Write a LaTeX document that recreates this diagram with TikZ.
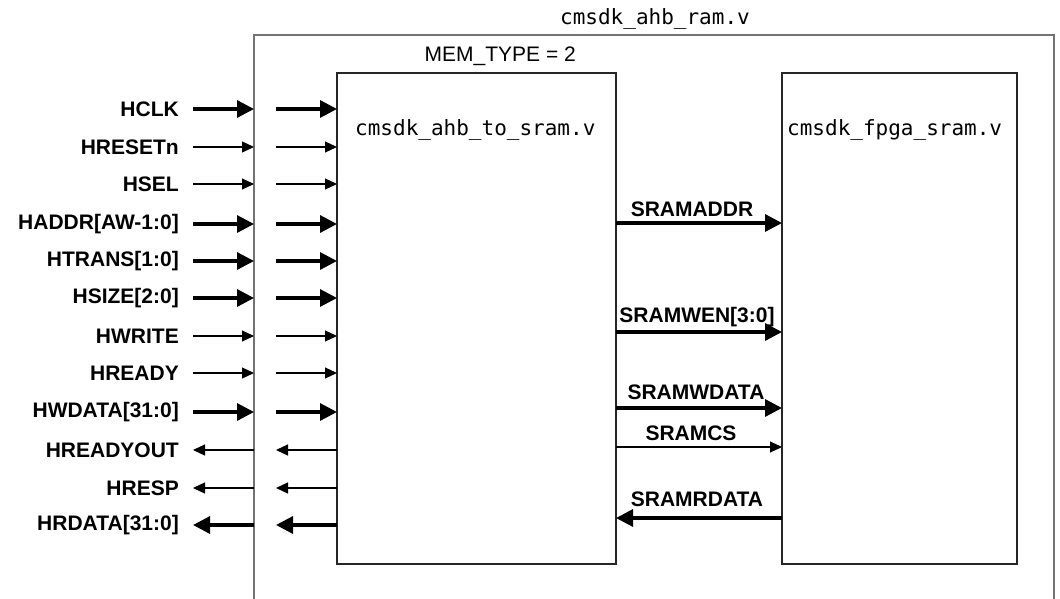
\documentclass[tikz,border=0pt]{standalone}
\usepackage{fontspec}
\setmainfont{Liberation Sans}
\setmonofont{DejaVu Sans Mono}
\usetikzlibrary{arrows.meta}
\begin{document}
\begin{tikzpicture}[x=1pt,y=-1pt,
  sig/.style={font=\fontsize{21}{25}\selectfont\bfseries, inner sep=0pt},
  mono/.style={font=\fontsize{21}{25}\selectfont\ttfamily, inner sep=0pt},
  plain/.style={font=\fontsize{21}{25}\selectfont, inner sep=0pt},
  busw/.style={line width=3.2pt, -{Triangle[length=17pt,width=17pt]}},
  wire/.style={line width=1.2pt, -{Triangle[length=12pt,width=11pt]}},
  modbox/.style={draw=black!85, line width=1.3pt, inner sep=0pt},
]
\useasboundingbox (0,0) rectangle (1060,599);
\clip (0,0) rectangle (1060,599);
\fill[white] (0,0) rectangle (1060,599);

% outer module
\coordinate (otl) at (254,35);
\coordinate (obr) at (1054,640);
\draw[draw=black!55, line width=1.4pt] (otl) rectangle (obr);
\node[mono, anchor=east] (toplbl) at (750,19) {cmsdk\_ahb\_ram.v};

% inner modules
\coordinate (atl) at (337,73);
\coordinate (abr) at (616,564);
\draw[modbox] (atl) rectangle (abr);
\node[plain, anchor=east] (memtype) at (576,56) {MEM\_TYPE = 2};
\node[mono, anchor=west] (albl) at (355,130) {cmsdk\_ahb\_to\_sram.v};

\coordinate (ftl) at (782,73);
\coordinate (fbr) at (1017,564);
\draw[modbox] (ftl) rectangle (fbr);
\node[mono, anchor=west] (flbl) at (787,130) {cmsdk\_fpga\_sram.v};

% left side signals
\foreach \nm/\txt/\y in {
  hclk/HCLK/109,
  hresetn/HRESETn/147,
  hsel/HSEL/184,
  haddr/HADDR[AW-1:0]/224,
  htrans/HTRANS[1:0]/261,
  hsize/HSIZE[2:0]/298,
  hwrite/HWRITE/336,
  hready/HREADY/373,
  hwdata/HWDATA[31:0]/412,
  hreadyout/HREADYOUT/450,
  hresp/HRESP/488,
  hrdata/HRDATA[31:0]/525} {
  \node[sig, anchor=east] (l\nm) at (179,\y) {\txt};
  \coordinate (a\nm) at (193,\y);
  \coordinate (b\nm) at (254,\y);
  \coordinate (c\nm) at (276,\y);
  \coordinate (d\nm) at (337,\y);
}
\foreach \nm in {hclk,haddr,htrans,hsize,hwdata}{
  \draw[busw] (a\nm) -- (b\nm);
  \draw[busw] (c\nm) -- (d\nm);
}
\foreach \nm in {hresetn,hsel,hwrite,hready}{
  \draw[wire] (a\nm) -- (b\nm);
  \draw[wire] (c\nm) -- (d\nm);
}
\foreach \nm in {hreadyout,hresp}{
  \draw[wire] (b\nm) -- (a\nm);
  \draw[wire] (d\nm) -- (c\nm);
}
\draw[busw] (bhrdata) -- (ahrdata);
\draw[busw] (dhrdata) -- (chrdata);

% SRAM interface
\foreach \nm/\y in {saddr/223, swen/332, swdata/408, scs/447, srdata/518}{
  \coordinate (p\nm) at (616,\y);
  \coordinate (q\nm) at (782,\y);
}
\draw[busw] (psaddr) -- (qsaddr);
\draw[busw] (pswen) -- (qswen);
\draw[busw] (pswdata) -- (qswdata);
\draw[wire] (pscs) -- (qscs);
\draw[busw] (qsrdata) -- (psrdata);

\node[sig] (lsaddr) at (692,209) {SRAMADDR};
\node[sig] (lswen) at (697,317) {SRAMWEN[3:0]};
\node[sig] (lswdata) at (696,392) {SRAMWDATA};
\node[sig] (lscs) at (691,433) {SRAMCS};
\node[sig] (lsrdata) at (697,499) {SRAMRDATA};
\end{tikzpicture}
\end{document}
